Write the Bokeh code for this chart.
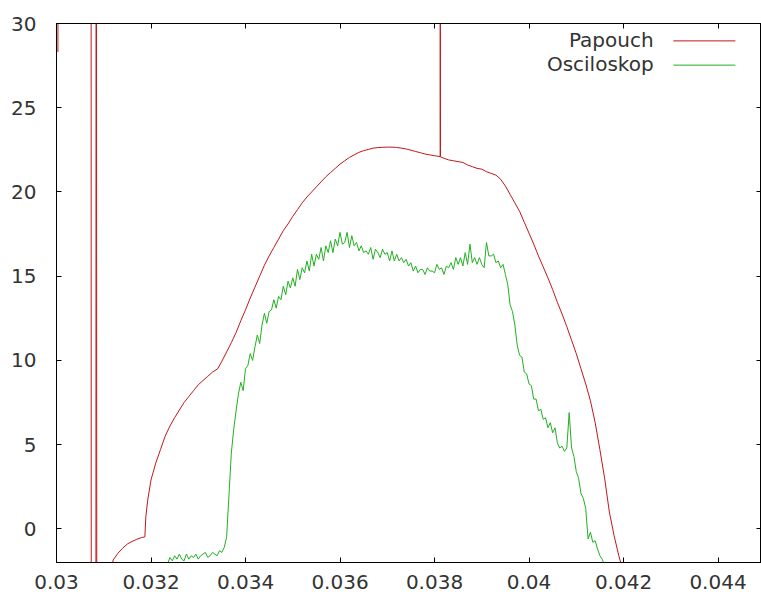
from bokeh.plotting import figure
from bokeh.models import Range1d, FixedTicker, LinearAxis, Label, Arrow
from bokeh.embed import file_html
from bokeh.resources import INLINE

# ---------------- data ----------------
series_names = ["Papouch", "Osciloskop"]
series_colors = ["#c01818", "#22b022"]

papouch_x = [
    0.03003, 0.03005, 0.03073, 0.03074, 0.03083, 0.03084, 0.03085, 0.03087,
    0.0311, 0.0312, 0.0313, 0.0314, 0.0315, 0.0316, 0.0317, 0.0318, 0.03187, 0.03189,
    0.03193, 0.0320, 0.0321, 0.0322, 0.0323, 0.0324, 0.0325, 0.0326, 0.0327, 0.0328,
    0.0329, 0.0330, 0.0331, 0.0332, 0.0333, 0.03341, 0.0335, 0.0336, 0.0337, 0.0338,
    0.0339, 0.0340, 0.0341, 0.0342, 0.0343, 0.0344, 0.0345, 0.0346, 0.0347, 0.0348,
    0.0349, 0.0350, 0.0351, 0.0352, 0.0353, 0.0354, 0.0355, 0.0356, 0.0357, 0.0358,
    0.0359, 0.0360, 0.0361, 0.0362, 0.0363, 0.0364, 0.0365, 0.0366, 0.0367, 0.0368,
    0.0369, 0.0370, 0.0371, 0.0372, 0.0373, 0.0374, 0.0375, 0.0376, 0.0377, 0.0378,
    0.0379, 0.0380, 0.03812, 0.038122, 0.038124, 0.038126, 0.0382, 0.0383, 0.0384, 0.0385,
    0.0386, 0.0387, 0.0388, 0.0389, 0.0390, 0.0391, 0.0392, 0.0393, 0.0394, 0.0395,
    0.0396, 0.0397, 0.0398, 0.0399, 0.0400, 0.0401, 0.0402, 0.0403, 0.0404, 0.0405,
    0.0406, 0.0407, 0.0408, 0.0409, 0.0410, 0.0411, 0.0412, 0.0413, 0.0414, 0.0415,
    0.0416, 0.0417, 0.0418, 0.0419, 0.0420,
]
papouch_y = [
    28.3, 80.0, 80.0, -80.0, -80.0, 80.0, 8.6, -80.0,
    -3.0, -1.85, -1.45, -1.15, -0.9, -0.75, -0.62, -0.52, -0.48, 0.7,
    1.7, 2.9, 3.9, 4.7, 5.5, 6.1, 6.6, 7.05, 7.5, 7.85,
    8.2, 8.55, 8.8, 9.05, 9.3, 9.5, 9.95, 10.5, 11.05, 11.65,
    12.35, 13.0, 13.7, 14.35, 15.0, 15.65, 16.2, 16.7, 17.2, 17.7,
    18.1, 18.55, 18.95, 19.35, 19.7, 20.0, 20.3, 20.6, 20.9, 21.15,
    21.4, 21.65, 21.85, 22.05, 22.2, 22.35, 22.45, 22.52, 22.6, 22.63,
    22.65, 22.66, 22.66, 22.64, 22.6, 22.55, 22.48, 22.4, 22.33, 22.25,
    22.2, 22.15, 22.1, 60.0, 26.2, 22.08, 22.0, 21.9, 21.85, 21.8,
    21.75, 21.6, 21.5, 21.4, 21.35, 21.2, 21.1, 21.0, 20.75, 20.35,
    19.85, 19.35, 18.85, 18.2, 17.55, 16.9, 16.2, 15.55, 14.9, 14.2,
    13.45, 12.75, 12.0, 11.2, 10.4, 9.5, 8.6, 7.6, 6.3, 4.7,
    3.0, 1.0, -0.4, -1.6, -2.6,
]

osc_x = [
    0.03235, 0.03240, 0.03245, 0.03250, 0.03255, 0.03260, 0.03265, 0.03270, 0.03275, 0.03280,
    0.03285, 0.03290, 0.03295, 0.03300, 0.03305, 0.03310, 0.03315, 0.03320, 0.03325, 0.03330,
    0.03335, 0.03340, 0.03345, 0.03350, 0.03355, 0.03360, 0.03365, 0.03370, 0.03375, 0.03380,
    0.03385, 0.03390, 0.03395, 0.03400, 0.03405, 0.03410, 0.03415, 0.03420, 0.03425, 0.03430,
    0.03435, 0.03440, 0.03445, 0.03450, 0.03455, 0.03460, 0.03465, 0.03470, 0.03475, 0.03480,
    0.03485, 0.03490, 0.03495, 0.03500, 0.03505, 0.03510, 0.03515, 0.03520, 0.03525, 0.03530,
    0.03535, 0.03540, 0.03545, 0.03550, 0.03555, 0.03560, 0.03565, 0.03570, 0.03575, 0.03580,
    0.03585, 0.03590, 0.03595, 0.03600, 0.03605, 0.03610, 0.03615, 0.03620, 0.03625, 0.03630,
    0.03635, 0.03640, 0.03645, 0.03650, 0.03655, 0.03660, 0.03665, 0.03670, 0.03675, 0.03680,
    0.03685, 0.03690, 0.03695, 0.03700, 0.03705, 0.03710, 0.03715, 0.03720, 0.03725, 0.03730,
    0.03735, 0.03740, 0.03745, 0.03750, 0.03755, 0.03760, 0.03765, 0.03770, 0.03775, 0.03780,
    0.03785, 0.03790, 0.03795, 0.03800, 0.03805, 0.03810, 0.03815, 0.03820, 0.03825, 0.03830,
    0.03835, 0.03840, 0.03845, 0.03850, 0.03855, 0.03860, 0.03865, 0.03870, 0.03875, 0.03880,
    0.03885, 0.03890, 0.03895, 0.03900, 0.03905, 0.03910, 0.03915, 0.03920, 0.03925, 0.03930,
    0.03935, 0.03940, 0.03945, 0.03950, 0.03955, 0.03960, 0.03965, 0.03970, 0.03975, 0.03980,
    0.03985, 0.03990, 0.03995, 0.04000, 0.04005, 0.04010, 0.04015, 0.04020, 0.04025, 0.04030,
    0.04035, 0.04040, 0.04045, 0.04050, 0.04055, 0.04060, 0.04065, 0.04070, 0.04075, 0.04080,
    0.04085, 0.04090, 0.04095, 0.04100, 0.04105, 0.04110, 0.04115, 0.04120, 0.04125, 0.04130,
    0.04135, 0.04140, 0.04145, 0.04150, 0.04155, 0.04160,
]
osc_y = [
    -2.1, -1.7, -1.9, -1.6, -1.8, -1.5, -1.8, -1.9, -1.5, -1.8,
    -1.6, -1.7, -1.5, -1.8, -1.6, -1.5, -1.4, -1.7, -1.6, -1.4,
    -1.5, -1.6, -1.3, -1.4, -1.1, -0.5, 2.0, 4.5, 5.9, 7.0,
    8.0, 8.7, 8.2, 9.5, 9.7, 10.4, 10.0, 10.8, 11.5, 11.0,
    12.1, 12.8, 12.2, 12.9, 13.0, 13.6, 13.1, 13.8, 13.6, 14.4,
    13.9, 14.7, 14.3, 14.9, 14.4, 15.4, 14.8, 15.5, 15.2, 15.9,
    15.3, 16.3, 15.6, 16.3, 16.0, 16.7, 15.9, 16.8, 16.4, 17.1,
    16.4, 17.2, 16.8, 17.6, 16.9, 17.0, 17.6, 16.7, 17.4, 16.8,
    17.0, 16.5, 16.8, 16.4, 16.5, 16.3, 16.7, 16.0, 16.6, 16.4,
    16.1, 16.6, 16.3, 16.4, 15.9, 16.5, 15.9, 16.3, 15.9, 16.1,
    15.8, 16.0, 15.6, 15.8, 15.3, 15.6, 15.2, 15.4, 15.4, 15.1,
    15.5, 15.3, 15.3, 15.2, 15.7, 15.4, 15.5, 15.1, 15.6, 15.5,
    15.8, 15.4, 16.1, 15.7, 16.1, 15.6, 16.4, 15.7, 16.9, 15.8,
    16.1, 15.7, 16.1, 15.7, 15.5, 17.0, 16.2, 16.2, 16.3, 15.8,
    15.9, 15.5, 15.7, 15.1, 14.5, 13.3, 12.9, 12.1, 10.9, 10.3,
    10.2, 9.3, 9.2, 8.6, 8.5, 7.7, 7.7, 7.0, 7.1, 6.5,
    6.6, 6.0, 6.3, 5.7, 6.0, 5.1, 4.8, 4.9, 4.6, 4.8,
    6.9, 4.8, 4.3, 3.4, 3.0, 2.1, 1.8, 1.2, -0.6, -0.2,
    -0.8, -0.7, -1.2, -1.6, -1.8, -2.2,
]

x_ticks = [0.030, 0.032, 0.034, 0.036, 0.038, 0.040, 0.042, 0.044]
x_tick_labels = ["0.03", "0.032", "0.034", "0.036", "0.038", "0.04", "0.042", "0.044"]
y_ticks = [0, 5, 10, 15, 20, 25, 30]
y_tick_labels = ["0", "5", "10", "15", "20", "25", "30"]

X_START, X_END = 0.030, 0.04492
Y_START, Y_END = -2.0, 30.0

FONT = "DejaVu Sans"
FSIZE = "20px"
TXT = "#333333"

# ---------------- figure ----------------
p = figure(width=761, height=594,
           x_range=Range1d(X_START, X_END), y_range=Range1d(Y_START, Y_END),
           output_backend="svg", toolbar_location=None,
           min_border_left=56, min_border_right=0, min_border_top=23, min_border_bottom=32)
p.grid.visible = False
p.outline_line_color = "black"
p.outline_line_width = 1
p.background_fill_color = "white"
p.border_fill_color = "white"

def style_axis(ax, ticks, labels, show_labels=True, standoff=8):
    ax.ticker = FixedTicker(ticks=ticks)
    ax.axis_line_color = "black"
    ax.major_tick_line_color = "black"
    ax.major_tick_in = 5
    ax.major_tick_out = 0
    ax.minor_tick_line_color = None
    if show_labels:
        ax.major_label_overrides = {t: l for t, l in zip(ticks, labels)}
        ax.major_label_text_font = FONT
        ax.major_label_text_color = TXT
        ax.major_label_text_font_size = FSIZE
        ax.major_label_standoff = standoff
    else:
        ax.major_label_text_color = None
        ax.major_label_text_font_size = "1px"
        ax.major_label_standoff = 0

style_axis(p.xaxis[0], x_ticks, x_tick_labels, True, 12)
style_axis(p.yaxis[0], y_ticks, y_tick_labels, True, 20)

top_axis = LinearAxis()
style_axis(top_axis, x_ticks, x_tick_labels, False)
p.add_layout(top_axis, "above")
right_axis = LinearAxis()
style_axis(right_axis, y_ticks, y_tick_labels, False)
p.add_layout(right_axis, "right")

p.line(papouch_x, papouch_y, line_color=series_colors[0], line_width=1)
p.line(osc_x, osc_y, line_color=series_colors[1], line_width=1)

# ---------------- legend (gnuplot style: text left, sample right) ----------------
xs = X_END - X_START
ys = Y_END - Y_START
text_right = X_START + 0.847 * xs
line_a = X_START + 0.875 * xs
line_b = X_START + 0.963 * xs
row_fracs = [0.031, 0.076]
for name, color, rf in zip(series_names, series_colors, row_fracs):
    yy = Y_END - rf * ys
    p.add_layout(Label(x=text_right, y=yy, text=name, text_align="right",
                       text_baseline="middle", text_font=FONT,
                       text_font_size=FSIZE, text_color=TXT))
    p.add_layout(Arrow(start=None, end=None, x_start=line_a, y_start=yy - 0.04,
                       x_end=line_b, y_end=yy - 0.04,
                       line_color=color, line_width=1))

open("out.html", "w").write(file_html(p, INLINE))
